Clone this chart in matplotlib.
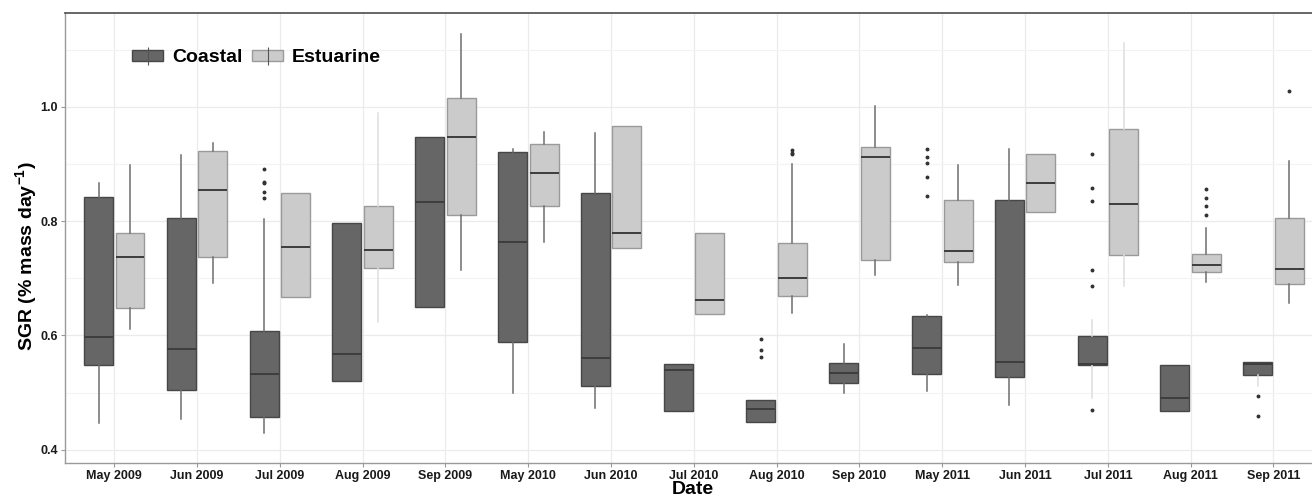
import matplotlib
matplotlib.use("Agg")
import matplotlib.pyplot as plt
from matplotlib.patches import Patch
from matplotlib.lines import Line2D

plt.rcParams['font.family'] = ['Liberation Sans', 'DejaVu Sans']
plt.rcParams['font.weight'] = 'bold'
plt.rcParams['mathtext.fontset'] = 'custom'
plt.rcParams['mathtext.rm'] = 'Liberation Sans:bold'
plt.rcParams['mathtext.bf'] = 'Liberation Sans:bold'

dates = ["May 2009", "Jun 2009", "Jul 2009", "Aug 2009", "Sep 2009",
         "May 2010", "Jun 2010", "Jul 2010", "Aug 2010", "Sep 2010",
         "May 2011", "Jun 2011", "Jul 2011", "Aug 2011", "Sep 2011"]

# coastal site: whisker low, Q1, median, Q3, whisker high, outliers
coastal_lo = [0.447, 0.454, 0.429, 0.521, 0.649, 0.500, 0.473, 0.468,
              0.448, 0.499, 0.503, 0.479, 0.490, 0.468, 0.511]
coastal_q1 = [0.549, 0.504, 0.458, 0.521, 0.649, 0.589, 0.511, 0.468,
              0.448, 0.517, 0.533, 0.527, 0.549, 0.468, 0.531]
coastal_med = [0.598, 0.577, 0.533, 0.567, 0.834, 0.764, 0.560, 0.539,
               0.472, 0.535, 0.578, 0.553, 0.550, 0.490, 0.551]
coastal_q3 = [0.842, 0.806, 0.608, 0.796, 0.947, 0.921, 0.849, 0.550,
              0.487, 0.552, 0.634, 0.837, 0.599, 0.549, 0.553]
coastal_hi = [0.867, 0.916, 0.803, 0.796, 0.947, 0.926, 0.954, 0.550,
              0.487, 0.585, 0.636, 0.927, 0.627, 0.549, 0.553]
coastal_out = [[], [], [0.891, 0.869, 0.867, 0.851, 0.840], [], [], [], [], [],
               [0.594, 0.574, 0.563], [], [0.927, 0.913, 0.902, 0.877, 0.844], [],
               [0.918, 0.858, 0.835, 0.715, 0.687, 0.469], [], [0.495, 0.459]]

# estuarine site
estuarine_lo = [0.612, 0.691, 0.668, 0.624, 0.715, 0.763, 0.753, 0.638,
                0.639, 0.705, 0.688, 0.816, 0.686, 0.693, 0.656]
estuarine_q1 = [0.648, 0.737, 0.668, 0.718, 0.811, 0.827, 0.753, 0.638,
                0.669, 0.732, 0.728, 0.816, 0.741, 0.711, 0.690]
estuarine_med = [0.737, 0.855, 0.754, 0.750, 0.948, 0.884, 0.780, 0.662,
                 0.700, 0.912, 0.748, 0.866, 0.830, 0.723, 0.716]
estuarine_q3 = [0.779, 0.923, 0.850, 0.827, 1.015, 0.935, 0.966, 0.780,
                0.762, 0.929, 0.837, 0.917, 0.961, 0.743, 0.806]
estuarine_hi = [0.899, 0.937, 0.850, 0.989, 1.128, 0.956, 0.966, 0.780,
                0.900, 1.002, 0.898, 0.917, 1.111, 0.788, 0.905]
estuarine_out = [[], [], [], [], [], [], [], [], [0.924, 0.920, 0.917], [], [], [],
                 [], [0.856, 0.841, 0.826, 0.811], [1.028]]


def make_stats(lo, q1, med, q3, hi, out):
    return [dict(whislo=a, q1=b, med=c, q3=d, whishi=e, fliers=f)
            for a, b, c, d, e, f in zip(lo, q1, med, q3, hi, out)]


fig = plt.figure(figsize=(13.12, 4.96), dpi=100)
ax = fig.add_axes([65 / 1312, 33 / 496, 1247 / 1312, 450 / 496])

x = list(range(len(dates)))
dodge = 0.19
width = 0.35

groups = [
    ("Coastal", make_stats(coastal_lo, coastal_q1, coastal_med, coastal_q3, coastal_hi, coastal_out),
     -dodge, "#666666", "#474747"),
    ("Estuarine", make_stats(estuarine_lo, estuarine_q1, estuarine_med, estuarine_q3, estuarine_hi, estuarine_out),
     dodge, "#cbcbcb", "#9a9a9a"),
]

# whiskers that came out washed-out: (group, box index, which whisker 0=low 1=high)
faint = {("Coastal", 12, 0), ("Coastal", 12, 1), ("Coastal", 14, 0),
         ("Estuarine", 3, 0), ("Estuarine", 3, 1),
         ("Estuarine", 12, 0), ("Estuarine", 12, 1)}

handles = []
for name, stats, off, face, edge in groups:
    art = ax.bxp(stats, positions=[i + off for i in x], widths=width,
                 patch_artist=True, showcaps=False, manage_ticks=False,
                 boxprops=dict(facecolor=face, edgecolor=edge, linewidth=1.0),
                 medianprops=dict(color="#3d3d3d", linewidth=1.4),
                 whiskerprops=dict(color="#6e6e6e", linewidth=1.1),
                 flierprops=dict(marker="o", markersize=1.8, markerfacecolor="#333333",
                                 markeredgecolor="#333333", linestyle="none"))
    for k, w in enumerate(art["whiskers"]):
        if (name, k // 2, k % 2) in faint:
            w.set_color("#dedede")
    for b in art["boxes"]:
        b.set_zorder(2)
    handles.append((Patch(facecolor=face, edgecolor=edge),
                    Line2D([], [], marker="|", linestyle="none", color="#555555",
                           markersize=13, markeredgewidth=0.8)))

ax.set_xlim(-0.595, 14.465)
ax.set_ylim(0.377, 1.164)
ax.set_xticks(x)
ax.set_xticklabels(dates, fontsize=9, fontweight="bold")
ax.set_yticks([0.4, 0.6, 0.8, 1.0])
ax.set_yticklabels(["0.4", "0.6", "0.8", "1.0"], fontsize=9, fontweight="bold")
ax.set_yticks([0.5, 0.7, 0.9, 1.1], minor=True)
ax.tick_params(axis="both", which="major", color="#999999", length=3, pad=2, labelcolor="#1a1a1a")
ax.tick_params(axis="y", which="minor", length=0)

ax.grid(True, which="major", color="#ebebeb", linewidth=0.9)
ax.grid(True, which="minor", axis="y", color="#f3f3f3", linewidth=0.8)
ax.set_axisbelow(True)

ax.spines["right"].set_visible(False)
ax.spines["top"].set_color("#5a5a5a")
ax.spines["top"].set_linewidth(1.3)
for s in ("left", "bottom"):
    ax.spines[s].set_color("#9a9a9a")
    ax.spines[s].set_linewidth(1.0)

fig.text(693 / 1312, 1 - 494 / 496, "Date", fontsize=14, fontweight="bold",
         ha="center", va="baseline")
fig.text(27 / 1312, 1 - 256 / 496, r"SGR (% mass day$^{-1}$)", fontsize=14,
         fontweight="bold", rotation=90, ha="center", va="center")

ax.legend(handles, ["Coastal", "Estuarine"], ncol=2, frameon=False,
          loc="center left", bbox_to_anchor=(0.046, 0.9), borderpad=0,
          handlelength=1.6, handleheight=0.5, handletextpad=0.45,
          columnspacing=0.5, prop=dict(size=14, weight="bold"))

fig.savefig("out.png", dpi=100)
